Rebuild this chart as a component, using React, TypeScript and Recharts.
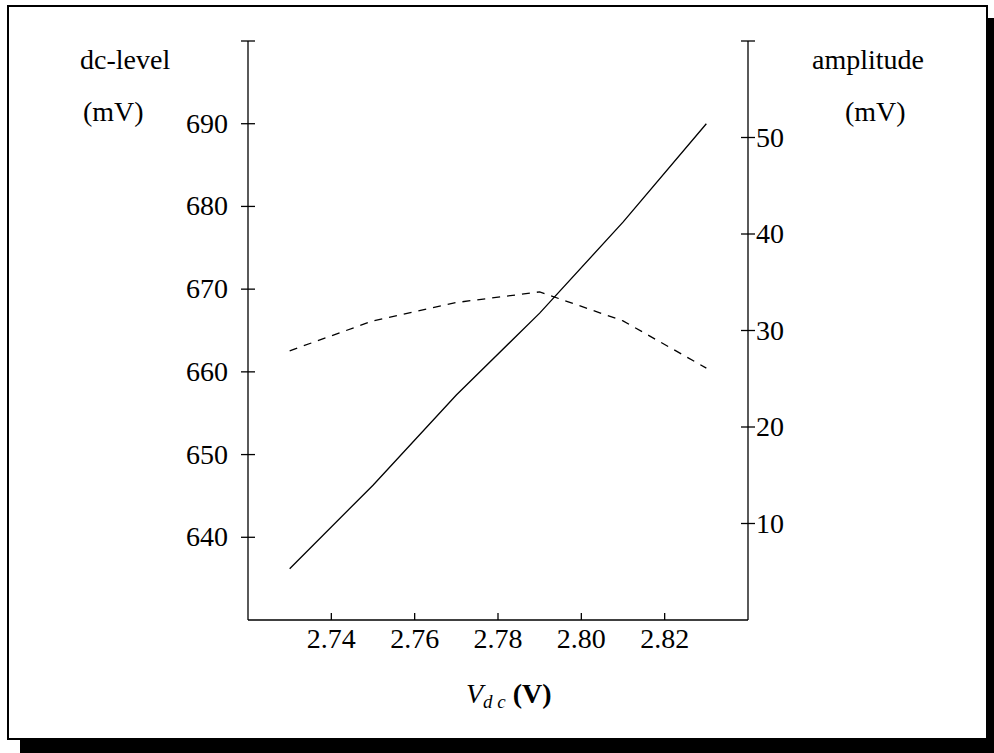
import { LineChart, Line, XAxis, YAxis } from "recharts"

const vdc = [2.73, 2.75, 2.77, 2.79, 2.81, 2.83]
const dcLevel = [636.2, 646.3, 657.2, 667.1, 678.1, 690.0]
const amplitude = [27.9, 31.0, 32.9, 34.0, 31.0, 26.1]

const xTicks = [2.74, 2.76, 2.78, 2.8, 2.82]
const leftTicks = [640, 650, 660, 670, 680, 690, 700]
const rightTicks = [10, 20, 30, 40, 50, 60]

const data = vdc.map((x, i) => ({ x, dc: dcLevel[i], amp: amplitude[i] }))

const FONT = "'Liberation Serif', 'Times New Roman', serif"
const FS = 28

// tick marks cross the axis; the top value gets only the cap, no label
function LeftTick(props: any) {
  const { x, y, payload } = props
  return (
    <g>
      <line x1={x - 7} x2={x + 7} y1={y} y2={y} stroke="#000" strokeWidth={1.3} />
      {payload.value < 700 && (
        <text x={x - 20} y={y + 9} textAnchor="end" fontFamily={FONT} fontSize={FS} fill="#000">
          {payload.value}
        </text>
      )}
    </g>
  )
}

function RightTick(props: any) {
  const { x, y, payload } = props
  return (
    <g>
      <line x1={x - 7} x2={x + 7} y1={y} y2={y} stroke="#000" strokeWidth={1.3} />
      {payload.value < 60 && (
        <text x={x + 8} y={y + 9} textAnchor="start" fontFamily={FONT} fontSize={FS} fill="#000">
          {payload.value}
        </text>
      )}
    </g>
  )
}

function BottomTick(props: any) {
  const { x, y, payload } = props
  return (
    <g>
      <line x1={x} x2={x} y1={y - 7} y2={y} stroke="#000" strokeWidth={1.3} />
      <text x={x} y={y + 28} textAnchor="middle" fontFamily={FONT} fontSize={FS} fill="#000">
        {payload.value.toFixed(2)}
      </text>
    </g>
  )
}

export default function App() {
  return (
    <div style={{ position: "fixed", left: 0, top: 0, width: 994, height: 753, background: "#fff", overflow: "hidden" }}>
      <svg width={994} height={753} style={{ position: "absolute", left: 0, top: 0 }}>
        <rect x={20} y={18} width={990} height={760} fill="#000" />
        <rect x={8} y={6} width={979} height={733} fill="#fff" stroke="#000" strokeWidth={2} />
        <g fontFamily={FONT} fontSize={FS} fill="#000">
          <text x={80} y={69}>dc-level</text>
          <text x={83} y={121}>(mV)</text>
          <text x={812} y={69}>amplitude</text>
          <text x={845} y={121}>(mV)</text>
          <text x={466} y={703}>
            <tspan fontStyle="italic">V</tspan>
            <tspan fontStyle="italic" fontSize={19} dy={5}>d c</tspan>
            <tspan dy={-5} fontWeight="bold"> (V)</tspan>
          </text>
        </g>
      </svg>
      <div style={{ position: "absolute", left: 0, top: 0 }}>
        <LineChart width={994} height={753} data={data} margin={{ top: 41, right: 0, bottom: 0, left: 0 }}>
          <XAxis
            dataKey="x"
            type="number"
            domain={[2.72, 2.84]}
            ticks={xTicks}
            allowDataOverflow
            height={133}
            tickSize={0}
            tickMargin={0}
            tickLine={false}
            axisLine={{ stroke: "#000", strokeWidth: 1.3 }}
            tick={<BottomTick />}
            interval={0}
          />
          <YAxis
            yAxisId="left"
            orientation="left"
            type="number"
            domain={[630, 700]}
            ticks={leftTicks}
            width={248}
            tickSize={0}
            tickMargin={0}
            tickLine={false}
            axisLine={{ stroke: "#000", strokeWidth: 1.3 }}
            tick={<LeftTick />}
            interval={0}
          />
          <YAxis
            yAxisId="right"
            orientation="right"
            type="number"
            domain={[0, 60]}
            ticks={rightTicks}
            width={246}
            tickSize={0}
            tickMargin={0}
            tickLine={false}
            axisLine={{ stroke: "#000", strokeWidth: 1.3 }}
            tick={<RightTick />}
            interval={0}
          />
          <Line
            yAxisId="left"
            dataKey="dc"
            stroke="#000"
            strokeWidth={1.3}
            dot={false}
            type="linear"
            isAnimationActive={false}
          />
          <Line
            yAxisId="right"
            dataKey="amp"
            stroke="#000"
            strokeWidth={1.3}
            strokeDasharray="8 7"
            dot={false}
            type="linear"
            isAnimationActive={false}
          />
        </LineChart>
      </div>
    </div>
  )
}
